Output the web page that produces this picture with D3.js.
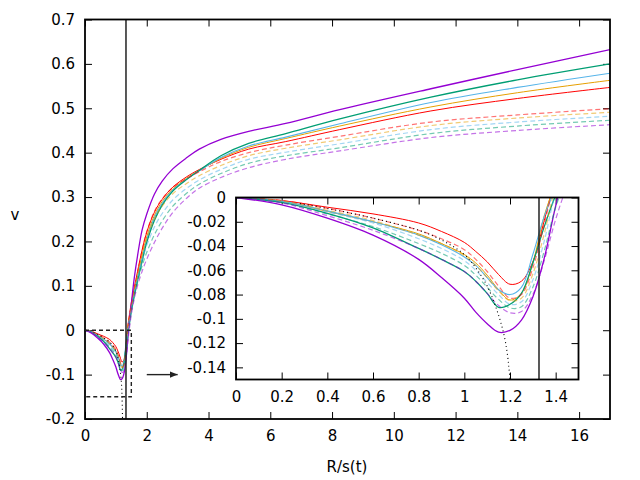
<!DOCTYPE html>
<html lang="en">
<head>
<meta charset="UTF-8">
<title>v against R/s(t)</title>
<script src="https://d3js.org/d3.v7.min.js"></script>
<style>
  body { margin: 0; background: #fff; }
  svg { display: block; background: #fff; }
  text { font-family: 'DejaVu Sans', sans-serif; }
  .tick text { font-size: 15px; fill: #000; font-family: 'DejaVu Sans', sans-serif; }
  .tick line { stroke: #000; stroke-width: 1; }
  .lbl { font-size: 15px; fill: #000; }
</style>
</head>
<body>
<svg width="640" height="480"></svg>
<script>
// sample points (R/s(t)) shared by all the coloured curves
const rGrid = [0, 0.2, 0.4, 0.6, 0.8, 0.9, 1.0, 1.05, 1.1, 1.15, 1.2, 1.25, 1.3, 1.35, 1.4, 1.45, 1.5,
  1.6, 1.7, 1.85, 2.0, 2.25, 2.5, 2.85, 3.3, 3.7, 4.4, 5.3, 6.5, 8.25, 11.2, 14, 17];

const solidRed = [0, -0.0025, -0.008, -0.0135, -0.021, -0.028, -0.037, -0.0445, -0.053, -0.0635, -0.0715, -0.069, -0.053, -0.019, 0.016, 0.040, 0.062,
  0.098, 0.132, 0.181, 0.221, 0.266, 0.295, 0.323, 0.346, 0.362, 0.385, 0.408, 0.425, 0.452, 0.494, 0.522, 0.547];
const solidOrange = [0, -0.003, -0.0115, -0.020, -0.030, -0.038, -0.047, -0.054, -0.064, -0.076, -0.0845, -0.079, -0.054, -0.015, 0.012, 0.035, 0.056,
  0.091, 0.124, 0.170, 0.211, 0.259, 0.290, 0.319, 0.343, 0.360, 0.387, 0.412, 0.432, 0.460, 0.503, 0.535, 0.563];
const solidBlue = [0, -0.003, -0.011, -0.020, -0.031, -0.039, -0.049, -0.056, -0.066, -0.076, -0.080, -0.074, -0.047, -0.0155, 0.008, 0.030, 0.051,
  0.086, 0.118, 0.162, 0.204, 0.254, 0.286, 0.316, 0.341, 0.359, 0.389, 0.415, 0.435, 0.465, 0.513, 0.547, 0.579];
const solidGreen = [0, -0.004, -0.013, -0.025, -0.042, -0.051, -0.061, -0.069, -0.079, -0.0905, -0.088, -0.079, -0.054, -0.024, 0.002, 0.024, 0.045,
  0.080, 0.112, 0.155, 0.198, 0.248, 0.282, 0.314, 0.340, 0.360, 0.393, 0.421, 0.443, 0.476, 0.525, 0.564, 0.600];
const solidPurple = [0, -0.006, -0.017, -0.031, -0.051, -0.066, -0.083, -0.0945, -0.104, -0.111, -0.1095, -0.101, -0.082, -0.050, -0.007, 0.028, 0.060,
  0.120, 0.167, 0.226, 0.262, 0.307, 0.336, 0.364, 0.389, 0.408, 0.430, 0.448, 0.466, 0.497, 0.544, 0.587, 0.632];

const dashRed = [0, -0.0025, -0.009, -0.017, -0.027, -0.034, -0.043, -0.051, -0.061, -0.073, -0.083, -0.080, -0.058, -0.022, 0.014, 0.035, 0.055,
  0.092, 0.128, 0.180, 0.222, 0.268, 0.296, 0.322, 0.342, 0.357, 0.380, 0.400, 0.417, 0.437, 0.469, 0.485, 0.499];
const dashOrange = [0, -0.003, -0.0105, -0.019, -0.031, -0.038, -0.048, -0.056, -0.066, -0.077, -0.085, -0.083, -0.063, -0.030, 0.008, 0.028, 0.050,
  0.087, 0.121, 0.168, 0.2065, 0.2505, 0.2795, 0.308, 0.331, 0.348, 0.371, 0.393, 0.410, 0.429, 0.461, 0.478, 0.491];
const dashBlue = [0, -0.0035, -0.012, -0.021, -0.034, -0.042, -0.052, -0.060, -0.070, -0.080, -0.088, -0.086, -0.068, -0.036, 0.003, 0.022, 0.045,
  0.082, 0.114, 0.157, 0.191, 0.233, 0.263, 0.294, 0.320, 0.3385, 0.362, 0.385, 0.401, 0.420, 0.452, 0.469, 0.482];
const dashGreen = [0, -0.004, -0.0135, -0.024, -0.038, -0.046, -0.056, -0.064, -0.074, -0.084, -0.091, -0.090, -0.074, -0.044, -0.008, 0.016, 0.040,
  0.077, 0.107, 0.145, 0.1755, 0.2155, 0.2465, 0.280, 0.309, 0.329, 0.353, 0.376, 0.393, 0.411, 0.443, 0.460, 0.473];
const dashPurple = [0, -0.0045, -0.015, -0.027, -0.042, -0.051, -0.061, -0.069, -0.079, -0.089, -0.095, -0.094, -0.080, -0.052, -0.018, 0.010, 0.035,
  0.072, 0.100, 0.133, 0.160, 0.198, 0.230, 0.266, 0.298, 0.320, 0.344, 0.366, 0.385, 0.404, 0.434, 0.450, 0.463];

// black dotted curve
const dotR = [0.28, 0.4, 0.6, 0.8, 0.9, 1.0, 1.05, 1.1, 1.15, 1.18, 1.2, 1.215];
const dotV = [-0.005, -0.009, -0.017, -0.027, -0.035, -0.047, -0.058, -0.073, -0.097, -0.119, -0.15, -0.2];

const vLineR = 1.327;          // vertical marker
const zoomBox = [0, 1.5, -0.15, 0]; // region shown in the inset
const arrowFrom = [2, -0.1], arrowTo = [3, -0.1];

const xTicksMain = d3.range(0, 17, 2);
const yTicksMain = [-0.2, -0.1, 0, 0.1, 0.2, 0.3, 0.4, 0.5, 0.6, 0.7];
const xTicksInset = [0, 0.2, 0.4, 0.6, 0.8, 1, 1.2, 1.4];
const yTicksInset = [0, -0.02, -0.04, -0.06, -0.08, -0.1, -0.12, -0.14];

const series = [
  { v: solidRed, color: "#ff0000", w: 1.0 },
  { v: solidOrange, color: "#e69f00", w: 1.0 },
  { v: solidBlue, color: "#56b4e9", w: 1.1 },
  { v: solidGreen, color: "#009e73", w: 1.3 },
  { v: solidPurple, color: "#9400d3", w: 1.3 },
  { v: dashRed, color: "#ff0000", w: 1.2, dash: true },
  { v: dashOrange, color: "#e69f00", w: 1.2, dash: true },
  { v: dashBlue, color: "#56b4e9", w: 1.2, dash: true },
  { v: dashGreen, color: "#009e73", w: 1.2, dash: true },
  { v: dashPurple, color: "#9400d3", w: 1.2, dash: true }
];

const fmt = d => String(Math.round(d * 100) / 100);
const svg = d3.select("svg");

function panel(id, x, y, xt, yt, opts) {
  const g = svg.append("g");
  const [x0, x1] = x.range(), [y0, y1] = y.range();
  g.append("rect").attr("x", x0).attr("y", y1).attr("width", x1 - x0).attr("height", y0 - y1).attr("fill", "#fff");
  svg.append("clipPath").attr("id", id).append("rect")
    .attr("x", x0).attr("y", y1).attr("width", x1 - x0).attr("height", y0 - y1);
  const noDomain = a => a.select(".domain").remove();
  g.append("g").attr("transform", `translate(0,${y0})`)
    .call(d3.axisBottom(x).tickValues(xt).tickSize(-7).tickPadding(opts.xpad).tickFormat(fmt)).call(noDomain);
  g.append("g").attr("transform", `translate(0,${y1})`)
    .call(d3.axisTop(x).tickValues(xt).tickSize(-7).tickFormat("")).call(noDomain);
  g.append("g").attr("transform", `translate(${x0},0)`)
    .call(d3.axisLeft(y).tickValues(yt).tickSize(-7).tickPadding(10).tickFormat(fmt)).call(noDomain);
  g.append("g").attr("transform", `translate(${x1},0)`)
    .call(d3.axisRight(y).tickValues(yt).tickSize(-7).tickFormat("")).call(noDomain);

  const plot = g.append("g").attr("clip-path", `url(#${id})`);
  const line = d3.line().x(d => x(d[0])).y(d => y(d[1])).curve(d3.curveCatmullRom.alpha(0.5));

  series.forEach(s => {
    plot.append("path")
      .attr("d", line(rGrid.map((r, i) => [r, s.v[i]])))
      .attr("fill", "none")
      .attr("stroke", s.color)
      .attr("stroke-width", s.w)
      .attr("stroke-opacity", s.dash ? 0.55 : 1)
      .attr("stroke-dasharray", s.dash ? "5,3" : null);
  });

  plot.append("path")
    .attr("d", line(dotR.map((r, i) => [r, dotV[i]])))
    .attr("fill", "none").attr("stroke", "#000").attr("stroke-width", 1.1)
    .attr("stroke-dasharray", "1,3");

  plot.append("line")
    .attr("x1", x(vLineR)).attr("x2", x(vLineR)).attr("y1", y0).attr("y2", y1)
    .attr("stroke", "#222").attr("stroke-width", 1.5);

  g.append("rect").attr("x", x0).attr("y", y1).attr("width", x1 - x0).attr("height", y0 - y1)
    .attr("fill", "none").attr("stroke", "#000").attr("stroke-width", 1.8);
  return g;
}

// main plot
const x = d3.scaleLinear().domain([0, 17]).range([85, 610]);
const y = d3.scaleLinear().domain([-0.2, 0.7]).range([419, 19.5]);
const main = panel("clipMain", x, y, xTicksMain, yTicksMain, { xpad: 11 });

// dashed zoom box and arrow
main.append("path")
  .attr("d", `M${x(zoomBox[0])},${y(zoomBox[3])}H${x(zoomBox[1])}V${y(zoomBox[2])}H${x(zoomBox[0])}`)
  .attr("fill", "none").attr("stroke", "#222").attr("stroke-width", 1.4).attr("stroke-dasharray", "4,3");

svg.append("defs").append("marker")
  .attr("id", "head").attr("viewBox", "0 0 10 10").attr("refX", 10).attr("refY", 5)
  .attr("markerWidth", 8).attr("markerHeight", 8).attr("markerUnits", "userSpaceOnUse").attr("orient", "auto")
  .append("path").attr("d", "M0,1L10,5L0,9Z").attr("fill", "#222");
main.append("line")
  .attr("x1", x(arrowFrom[0])).attr("y1", y(arrowFrom[1]))
  .attr("x2", x(arrowTo[0])).attr("y2", y(arrowTo[1]))
  .attr("stroke", "#222").attr("stroke-width", 1.4).attr("marker-end", "url(#head)");

svg.append("text").attr("class", "lbl").attr("x", 15).attr("y", 220).attr("text-anchor", "middle").text("v");
svg.append("text").attr("class", "lbl").attr("x", 347).attr("y", 472).attr("text-anchor", "middle").text("R/s(t)");

// inset
const xi = d3.scaleLinear().domain([0, 1.5]).range([236, 578.5]);
const yi = d3.scaleLinear().domain([-0.15, 0]).range([379.5, 197.5]);
panel("clipInset", xi, yi, xTicksInset, yTicksInset, { xpad: 12 });
</script>
</body>
</html>
